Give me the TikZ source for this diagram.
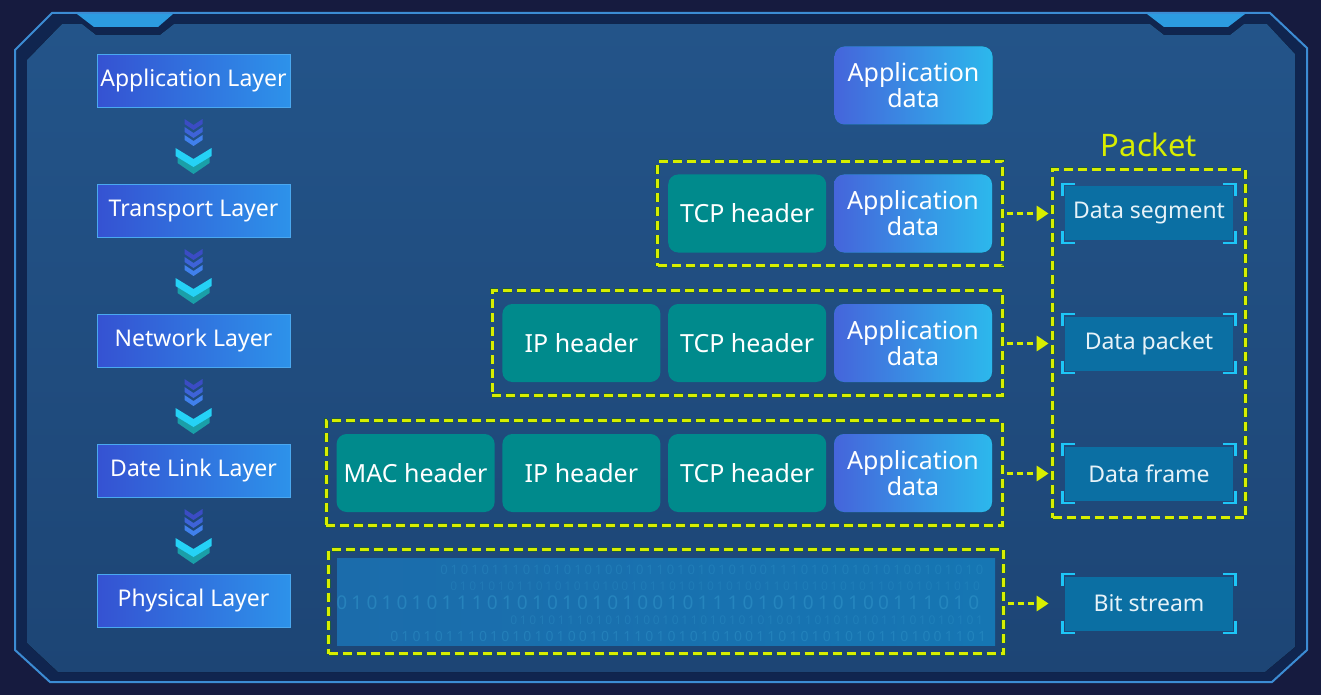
\documentclass[tikz,border=0pt]{standalone}
\usepackage{fontspec}
\setmainfont{Noto Sans}
\usepackage{tikz}
\usetikzlibrary{positioning,fit,calc,arrows.meta}

\definecolor{bgdark}{HTML}{161B3F}
\definecolor{frameband}{HTML}{10254F}
\definecolor{frameline}{HTML}{3C8CD4}
\definecolor{panelhi}{HTML}{235489}
\definecolor{panello}{HTML}{1D4575}
\definecolor{tabblue}{HTML}{2C9BE0}
\definecolor{lyrleft}{HTML}{3552D2}
\definecolor{lyrright}{HTML}{2D92EA}
\definecolor{lyredge}{HTML}{4AA8F0}
\definecolor{chevA}{HTML}{3B4CC4}
\definecolor{chevB}{HTML}{3E63D8}
\definecolor{chevC}{HTML}{4080EC}
\definecolor{chevbig}{HTML}{25D2F6}
\definecolor{chevshade}{HTML}{1A9FA8}
\definecolor{hdrteal}{HTML}{008A8C}
\definecolor{appleft}{HTML}{4565DB}
\definecolor{appright}{HTML}{2CB8EC}
\definecolor{pktyellow}{HTML}{D8EE00}
\definecolor{grpedge}{HTML}{1F5E3A}
\definecolor{pktfill}{HTML}{0B6FA3}
\definecolor{pkttext}{HTML}{E6F2F8}
\definecolor{brkcyan}{HTML}{1DC6F7}
\definecolor{bandleft}{HTML}{1B6CAB}
\definecolor{bandright}{HTML}{1676B3}
\definecolor{bitdigit}{HTML}{3398CC}

\begin{document}
\begin{tikzpicture}[x=0.5pt, y=-0.5pt,
    layer/.style={draw=lyredge, line width=0.5pt, left color=lyrleft, right color=lyrright,
      text=white, minimum width=96.5pt, minimum height=26.5pt, inner sep=0pt,
      font=\fontsize{11.5}{13}\selectfont},
    hdr/.style={fill=hdrteal, rounded corners=5pt, text=white, minimum width=79pt,
      minimum height=39pt, inner sep=0pt, font=\fontsize{12.5}{13}\selectfont},
    appdata/.style={hdr, left color=appleft, right color=appright, align=center},
    grp/.style={draw=pktyellow, line width=1.5pt, dash pattern=on 4.5pt off 2.5pt,
      preaction={draw=grpedge, line width=2.4pt, dash pattern=on 4.5pt off 2.5pt},
      inner xsep=5pt, inner ysep=6.5pt},
    pkt/.style={fill=pktfill, text=pkttext, minimum width=84pt, minimum height=27pt,
      inner sep=0pt, font=\fontsize{11.5}{13}\selectfont},
    brk/.style={draw=brkcyan, line width=1.2pt},
    band/.style={left color=bandleft, right color=bandright, minimum width=329pt,
      minimum height=43.5pt, inner sep=0pt},
    flow/.style={pktyellow, line width=1.5pt, dash pattern=on 3pt off 2pt,
      -{Triangle[length=6pt,width=7.5pt]}, shorten <=1.5pt, shorten >=8pt}]

    % background and frame
    \fill[bgdark] (0,0) rectangle (1321,695);
    \useasboundingbox (0,0) rectangle (1321,695);
    \filldraw[fill=frameband, draw=frameline, line width=1pt] (15,50) -- (52,13) -- (1270,13) -- (1307,48)
      -- (1307,650) -- (1272,682) -- (50,682) -- (15,650) -- cycle;
    \fill[tabblue] (77,14) -- (173,14) -- (158,27) -- (94,27) -- cycle;
    \fill[tabblue] (1147,14) -- (1245,14) -- (1228,27) -- (1164,27) -- cycle;
    \fill[top color=panelhi, bottom color=panello] (27,60) -- (62,24) -- (82,24) -- (96,35) -- (160,35)
      -- (174,24) -- (1150,24) -- (1164,35) -- (1230,35) -- (1244,24) -- (1267,24) -- (1295,54)
      -- (1295,647) -- (1265,672) -- (58,672) -- (27,643) -- cycle;

    % layers
    \node[layer] (app) at (193.5,81) {Application Layer};
    \node[layer, below=38pt of app] (trn) {Transport Layer};
    \node[layer, below=38pt of trn] (net) {Network Layer};
    \node[layer, below=38pt of net] (dll) {Date Link Layer};
    \node[layer, below=38pt of dll] (phy) {Physical Layer};

    \foreach \a in {app,trn,net,dll} {
      \begin{scope}[shift={(\a.south)}]
        \foreach \k/\c in {0/chevA,1/chevB,2/chevC}
          \fill[\c] (-9,11+8*\k) -- (0,17+8*\k) -- (9,11+8*\k) -- (9,16+8*\k) -- (0,22+8*\k) -- (-9,16+8*\k) -- cycle;
        \fill[chevshade] (-16,48) -- (0,58) -- (16,48) -- (16,55) -- (0,66) -- (-16,55) -- cycle;
        \fill[chevbig] (-18,40) -- (0,51) -- (18,40) -- (18,48) -- (0,59) -- (-18,48) -- cycle;
      \end{scope}
    }

    % encapsulation rows
    \node[appdata] (ad1) at (913.5,85.5) {Application\\data};

    \node[appdata] (ad2) at (913,213.5) {Application\\data};
    \node[hdr, left=3.5pt of ad2] (tcp2) {TCP header};

    \node[appdata] (ad3) at (913,343) {Application\\data};
    \node[hdr, left=3.5pt of ad3] (tcp3) {TCP header};
    \node[hdr, left=3.5pt of tcp3] (ip3) {IP header};

    \node[appdata] (ad4) at (913,473) {Application\\data};
    \node[hdr, left=3.5pt of ad4] (tcp4) {TCP header};
    \node[hdr, left=3.5pt of tcp4] (ip4) {IP header};
    \node[hdr, left=3.5pt of ip4] (mac4) {MAC header};

    \node[band] (bits) at (666,601.5) {};
    \begin{scope}
      \clip (bits.north west) rectangle (bits.south east);
      \foreach \y/\x/\sz/\op/\s in {
          570/440/6.5/0.3/01010111010101010010110101010100111010101010100101010,
          586/450/6/0.25/01010101101010101001011010101010011010101010110101011010,
          603/336/9.5/0.5/0101010111010101010100101110101010100111010,
          620/510/6/0.3/01010111010101001011010101010011010101011101010101,
          636/390/7/0.4/010101110101010100101110101010100110101010101101001101}
        \node[anchor=west, inner sep=0pt, text=bitdigit, opacity=\op,
          font=\fontsize{\sz}{\sz}\selectfont\addfontfeatures{LetterSpace=22}]
          (row\y) at (\x,\y) {\s};
    \end{scope}

    \node[grp, fit=(tcp2)(ad2)] (g2) {};
    \node[grp, fit=(ip3)(ad3)] (g3) {};
    \node[grp, fit=(mac4)(ad4)] (g4) {};
    \node[grp, fit=(bits), inner xsep=4pt, inner ysep=4.25pt] (g5) {};

    % packet names
    \node[pkt] (seg) at (1149,213.5) {Data segment};
    \node[pkt] (dpk) at (1149,343.5) {Data packet};
    \node[pkt] (frm) at (1149,473.5) {Data frame};
    \node[pkt] (bit) at (1149,603.5) {Bit stream};
    \foreach \n in {seg,dpk,frm,bit} {
      \draw[brk] ([shift={(-2,10)}]\n.north west) |- ([shift={(10,-2)}]\n.north west);
      \draw[brk] ([shift={(2,10)}]\n.north east) |- ([shift={(-10,-2)}]\n.north east);
      \draw[brk] ([shift={(-2,-10)}]\n.south west) |- ([shift={(10,2)}]\n.south west);
      \draw[brk] ([shift={(2,-10)}]\n.south east) |- ([shift={(-10,2)}]\n.south east);
    }
    \node[grp, fit=(seg)(frm), inner xsep=6pt, inner ysep=8.5pt] (pbox) {};
    \node[text=pktyellow, font=\fontsize{15.5}{17}\selectfont, above=2pt of pbox] (plabel) {Packet};

    \draw[flow] (g2.east |- seg) -- (seg);
    \draw[flow] (g3.east |- dpk) -- (dpk);
    \draw[flow] (g4.east |- frm) -- (frm);
    \draw[flow] (g5.east |- bit) -- (bit);
\end{tikzpicture}
\end{document}
